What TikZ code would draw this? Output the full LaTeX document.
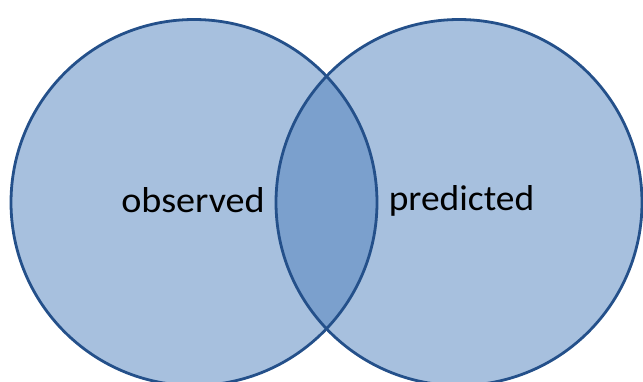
\documentclass[tikz,border=0pt]{standalone}
\usepackage{fontspec}
\setmainfont{Carlito}
\definecolor{lightfill}{HTML}{A7C0DE}
\definecolor{darkfill}{HTML}{7BA0CD}
\definecolor{edge}{HTML}{24508A}
\tikzset{
  venncircle/.style={circle, minimum size=366pt, inner sep=0pt, outer sep=0pt},
  vennline/.style={draw=edge, line width=2.8pt},
  label/.style={anchor=base, inner sep=0pt, font=\fontsize{36}{42}\selectfont, text=black}
}
\begin{document}
\begin{tikzpicture}[x=1pt,y=-1pt]
\useasboundingbox (0,0) rectangle (643,381);
\fill[white] (0,0) rectangle (643,381);
\coordinate (cl) at (194,202.5);
\coordinate (cr) at (459,202.5);
\fill[lightfill] (cl) circle[radius=183];
\fill[lightfill] (cr) circle[radius=183];
\begin{scope}
  \clip (cl) circle[radius=183];
  \fill[darkfill] (cr) circle[radius=183];
\end{scope}
\node[venncircle, vennline] (obs) at (cl) {};
\node[venncircle, vennline] (pred) at (cr) {};
\node[label] (tobs) at (193,212) {\scalebox{1.06}[1]{observed}};
\node[label] (tpred) at (461.5,210) {\scalebox{1.04}[1]{predicted}};
\end{tikzpicture}
\end{document}
